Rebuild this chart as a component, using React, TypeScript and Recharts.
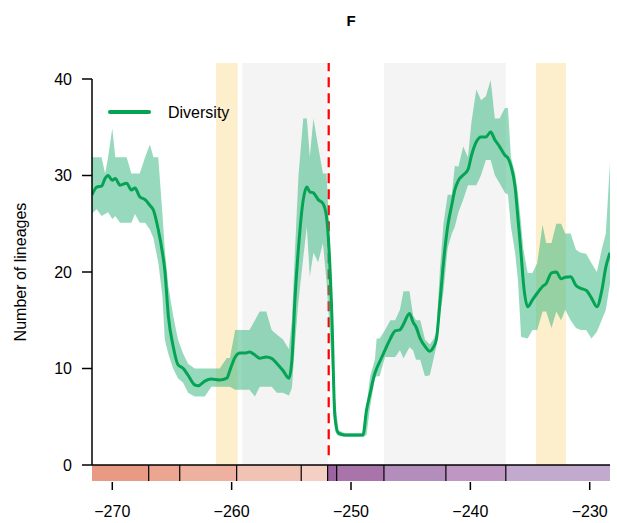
import React from 'react';
import {
  ComposedChart,
  Area,
  Line,
  XAxis,
  YAxis,
  ReferenceArea,
  ReferenceLine,
  Legend,
} from 'recharts';

const FONT = '"Liberation Sans", Arial, Helvetica, sans-serif';

const ageMa = [
  -271.7, -271.3, -270.9, -270.6, -270.35, -270.0, -269.75, -269.35, -268.8, -268.4,
  -268.1, -267.7, -267.25, -266.85, -266.55, -266.15, -265.8, -265.6, -265.3, -264.9,
  -264.5, -264.05, -263.65, -263.1, -262.8, -262.25, -261.7, -261.0, -260.4, -260.15,
  -259.7, -259.3, -258.9, -258.5, -258.05, -257.65, -257.1, -256.65, -256.2, -255.7,
  -255.2, -254.95, -254.7, -254.4, -254.0, -253.7, -253.45, -253.15, -252.75, -252.35,
  -252.05, -251.85, -251.6, -251.35, -251.05, -250.5, -249.0, -248.7, -248.4, -248.0,
  -247.85, -247.6, -247.15, -246.7, -246.3, -245.9, -245.6, -245.1, -244.8, -244.55,
  -244.2, -243.8, -243.4, -243.1, -242.85, -242.55, -242.25, -241.9, -241.55, -241.3,
  -241.0, -240.6, -240.2, -239.9, -239.5, -239.1, -238.7, -238.3, -237.95, -237.55,
  -237.1, -236.85, -236.6, -236.25, -236.0, -235.75, -235.55, -235.2, -234.8, -234.4,
  -233.95, -233.65, -233.2, -232.8, -232.4, -232.05, -231.6, -231.15, -230.75, -230.3,
  -229.85, -229.4, -229.0, -228.65, -228.3,
];

const diversityMean = [
  28.0, 28.8, 28.9, 29.7, 30.0, 29.5, 29.7, 29.0, 29.2, 28.5,
  28.7, 27.8, 27.5, 26.9, 26.4, 24.4, 22.0, 20.2, 15.4, 12.3,
  10.4, 10.0, 9.3, 8.3, 8.2, 8.7, 8.9, 8.8, 9.0, 9.8,
  11.2, 11.6, 11.6, 11.7, 11.4, 11.05, 11.2, 11.05, 10.5, 9.8,
  9.0, 10.9, 17.1, 22.5, 27.5, 28.8, 28.3, 28.2, 27.5, 27.1,
  25.7, 22.6, 15.4, 5.0, 3.3, 3.1, 3.1, 5.7, 7.4, 9.5,
  10.0, 10.7, 11.9, 13.1, 13.9, 14.0, 14.6, 15.7, 14.8, 14.3,
  13.1, 12.3, 11.8, 12.2, 13.0, 16.8, 21.0, 24.7, 27.0, 28.5,
  29.5, 30.05, 30.6, 32.1, 33.5, 34.0, 34.0, 34.5, 33.7, 33.0,
  32.1, 31.8, 31.0, 28.8, 25.4, 21.9, 18.8, 16.4, 17.1, 17.8,
  18.5, 18.8, 19.9, 20.0, 19.3, 19.45, 19.5, 18.6, 18.3, 18.1,
  17.3, 16.4, 18.0, 20.5, 22.0,
];

const diversityLow = [
  26.1, 26.5, 25.8, 26.0, 26.2, 25.5, 25.8, 25.1, 25.1, 25.1,
  26.0, 25.1, 25.1, 24.4, 23.5, 21.0, 17.5, 13.0, 11.5, 10.0,
  9.0, 8.5, 7.5, 7.1, 7.1, 7.1, 8.1, 8.1, 8.1, 8.1,
  7.8, 7.8, 7.8, 7.8, 7.1, 8.1, 8.1, 8.1, 7.5, 7.5,
  7.2, 8.0, 12.5, 17.0, 21.5, 24.7, 19.5, 22.0, 21.0, 23.0,
  19.0, 15.0, 10.0, 3.5, 3.0, 2.9, 2.9, 3.1, 6.0, 9.0,
  9.2, 9.2, 11.2, 11.2, 11.2, 11.9, 11.05, 12.2, 11.9, 10.9,
  10.9, 9.2, 9.3, 10.9, 12.3, 15.4, 18.0, 22.5, 24.0, 24.7,
  26.2, 27.5, 29.0, 29.0, 29.0, 30.05, 31.6, 31.6, 30.05, 29.2,
  28.2, 28.0, 24.7, 22.0, 19.0, 13.3, 13.2, 13.1, 14.0, 14.0,
  15.9, 15.9, 14.2, 15.9, 15.0, 16.1, 15.0, 14.2, 14.0, 14.0,
  13.1, 13.8, 15.0, 16.1, 18.8,
];

const diversityHigh = [
  31.9, 31.9, 31.9, 30.2, 31.9, 34.9, 31.9, 31.9, 31.9, 30.2,
  30.2, 30.2, 31.9, 33.2, 31.9, 31.9, 26.0, 22.3, 18.5, 15.5,
  13.0, 11.5, 10.5, 10.0, 10.0, 10.0, 10.0, 10.0, 11.1, 11.1,
  14.0, 14.0, 14.0, 14.0, 15.0, 15.9, 15.9, 14.0, 13.5, 13.0,
  12.0, 15.0, 22.0, 30.0, 35.9, 35.9, 31.9, 35.9, 33.0, 30.2,
  30.2, 25.0, 18.0, 7.0, 3.6, 3.3, 3.3, 6.0, 9.2, 10.9,
  13.1, 13.1, 14.0, 15.0, 15.0, 16.1, 18.0, 18.0, 15.5, 15.0,
  15.0, 13.0, 12.5, 13.0, 13.7, 20.2, 25.0, 28.0, 28.0, 31.0,
  30.9, 33.0, 31.9, 35.6, 38.9, 37.8, 38.2, 39.9, 35.9, 35.9,
  37.0, 37.0, 31.9, 30.2, 28.0, 25.0, 22.3, 19.9, 19.9, 20.9,
  24.9, 23.0, 23.0, 25.0, 25.0, 24.0, 24.0, 22.3, 22.0, 21.9,
  20.9, 20.0, 22.3, 24.0, 31.3,
];

const xTicks = [-270, -260, -250, -240, -230];
const yTicks = [0, 10, 20, 30, 40];

const stageBounds = [
  -271.7, -266.95, -264.35, -259.58, -254.17, -251.96, -251.2, -247.24, -242.05, -237.03, -228.3,
];
const stageColors = [
  '#E99A85', '#EBA590', '#EEB19F', '#F1C3B4', '#F3CFC4',
  '#9B63A0', '#A874AA', '#B38DBB', '#BE98C2', '#C2AACE',
];

const yellowBands = [
  [-261.31, -259.5],
  [-234.5, -232.0],
];
const grayBands = [
  [-259.11, -251.96],
  [-247.24, -237.03],
];
const extinctionAge = -251.9;

const BAR_BOTTOM = -1.66;
const BAND_TOP = 41.66;

const rows = ageMa.map((age, i) => ({
  age,
  mean: diversityMean[i],
  range: [diversityLow[i], diversityHigh[i]],
}));

const fmt = (v: number) => (v < 0 ? `\u2212${Math.abs(v)}` : `${v}`);

const XTick = (props: any) => {
  const { x, y, payload } = props;
  return (
    <g>
      <line x1={x} x2={x} y1={y + 17} y2={y + 25} stroke="#000" strokeWidth={1.5} />
      <text x={x} y={y + 52} textAnchor="middle" fontSize={16} fill="#000" fontFamily={FONT}>
        {fmt(payload.value)}
      </text>
    </g>
  );
};

const LegendContent = () => (
  <svg width={160} height={30}>
    <line x1={12} x2={51} y1={15} y2={15} stroke="#05A354" strokeWidth={4} strokeLinecap="round" />
    <text x={70} y={21} fontSize={16} fill="#000" fontFamily={FONT}>
      Diversity
    </text>
  </svg>
);

export default function App() {
  return (
    <div
      style={{
        position: 'absolute',
        left: 0,
        top: 0,
        width: 617,
        height: 523,
        background: '#fff',
        fontFamily: FONT,
      }}
    >
      <div
        style={{
          position: 'absolute',
          left: 251,
          width: 200,
          top: 12,
          textAlign: 'center',
          fontWeight: 'bold',
          fontSize: 15,
          fontFamily: FONT,
          color: '#000',
        }}
      >
        F
      </div>
      <ComposedChart
        width={617}
        height={523}
        data={rows}
        margin={{ top: 79, right: 7, left: 0, bottom: 0 }}
        style={{ fontFamily: FONT }}
      >
        {yellowBands.map(([a, b], i) => (
          <ReferenceArea
            key={`y${i}`}
            x1={a}
            x2={b}
            y1={0}
            y2={BAND_TOP}
            fill="#FDEECC"
            fillOpacity={1}
            stroke="none"
            ifOverflow="visible"
          />
        ))}
        {grayBands.map(([a, b], i) => (
          <ReferenceArea
            key={`g${i}`}
            x1={a}
            x2={b}
            y1={0}
            y2={BAND_TOP}
            fill="#F4F4F4"
            fillOpacity={1}
            stroke="none"
            ifOverflow="visible"
          />
        ))}
        <ReferenceLine
          segment={[
            { x: extinctionAge, y: 1 },
            { x: extinctionAge, y: BAND_TOP },
          ]}
          stroke="#FF0000"
          strokeWidth={3}
          strokeDasharray="10 6"
          ifOverflow="visible"
          zIndex={50}
        />
        {stageColors.map((c, i) => (
          <ReferenceArea
            key={`s${i}`}
            x1={stageBounds[i]}
            x2={stageBounds[i + 1]}
            y1={BAR_BOTTOM}
            y2={0}
            fill={c}
            fillOpacity={1}
            stroke="none"
            ifOverflow="visible"
          />
        ))}
        {stageBounds.slice(1, -1).map((b, i) => (
          <ReferenceLine
            key={`sb${i}`}
            segment={[
              { x: b, y: BAR_BOTTOM },
              { x: b, y: 0 },
            ]}
            stroke="#000"
            strokeWidth={1.2}
            ifOverflow="visible"
          />
        ))}
        <Area
          dataKey="range"
          type="linear"
          fill="#2DB37A"
          fillOpacity={0.5}
          stroke="none"
          isAnimationActive={false}
          legendType="none"
        />
        <Line
          dataKey="mean"
          type="monotone"
          stroke="#05A354"
          strokeWidth={3}
          dot={false}
          activeDot={false}
          isAnimationActive={false}
          name="Diversity"
        />
        <ReferenceLine
          y={0}
          stroke="#000"
          strokeWidth={1.5}
          ifOverflow="visible"
          segment={[
            { x: -271.7, y: 0 },
            { x: -228.3, y: 0 },
          ]}
        />
        <XAxis
          dataKey="age"
          type="number"
          domain={[-271.7, -228.3]}
          ticks={xTicks}
          allowDataOverflow
          axisLine={false}
          tickLine={false}
          tickSize={0}
          tickMargin={0}
          height={58}
          tick={<XTick />}
          interval={0}
        />
        <YAxis
          type="number"
          domain={[0, 40]}
          ticks={yTicks}
          width={92}
          tickSize={10}
          tickMargin={10}
          axisLine={{ stroke: '#000', strokeWidth: 1.5 }}
          tickLine={{ stroke: '#000', strokeWidth: 1.5 }}
          tick={{ fill: '#000', fontSize: 16, fontFamily: FONT }}
          label={{
            value: 'Number of lineages',
            angle: -90,
            position: 'insideLeft',
            offset: 20,
            style: { textAnchor: 'middle', fill: '#000', fontSize: 16, fontFamily: FONT },
          }}
        />
        <Legend
          layout="vertical"
          align="center"
          verticalAlign="middle"
          content={<LegendContent />}
          wrapperStyle={{ position: 'absolute', left: 98, top: 97, width: 160, height: 30 }}
        />
      </ComposedChart>
    </div>
  );
}
